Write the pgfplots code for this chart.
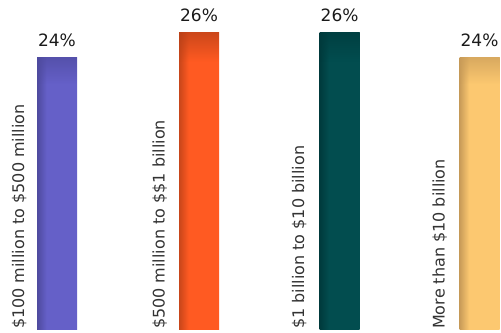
\documentclass[border=0pt]{standalone}
\usepackage{pgfplots}
\pgfplotsset{compat=1.18}
\usetikzlibrary{fadings}
\usepackage{fontspec}
\setmainfont{DejaVu Sans}
\definecolor{pmain}{HTML}{6560C8}
\definecolor{pdark}{HTML}{4E4A9E}
\definecolor{omain}{HTML}{FF5A22}
\definecolor{odark}{HTML}{C8461A}
\definecolor{tmain}{HTML}{024D4F}
\definecolor{tdark}{HTML}{003A3C}
\definecolor{gmain}{HTML}{FCC870}
\definecolor{gdark}{HTML}{C89B58}
\definecolor{lbl}{HTML}{333333}
\definecolor{val}{HTML}{1A1A1A}
\pgfdeclarehorizontalshading{pshade}{100bp}{color(0bp)=(pdark); color(25bp)=(pdark); color(37bp)=(pmain); color(100bp)=(pmain)}
\pgfdeclarehorizontalshading{oshade}{100bp}{color(0bp)=(odark); color(25bp)=(odark); color(37bp)=(omain); color(100bp)=(omain)}
\pgfdeclarehorizontalshading{tshade}{100bp}{color(0bp)=(tdark); color(25bp)=(tdark); color(37bp)=(tmain); color(100bp)=(tmain)}
\pgfdeclarehorizontalshading{gshade}{100bp}{color(0bp)=(gdark); color(25bp)=(gdark); color(37bp)=(gmain); color(100bp)=(gmain)}
\tikzfading[name=topfade, top color=transparent!100, bottom color=transparent!100]
\pgfdeclareverticalshading{topfadeshade}{100bp}{color(0bp)=(pgftransparent!100); color(70bp)=(pgftransparent!100); color(75bp)=(pgftransparent!0); color(100bp)=(pgftransparent!0)}
\pgfdeclarefading{topedge}{\pgfuseshading{topfadeshade}}
\pgfplotsset{
  valnodes/.style={
    nodes near coords={\pgfmathprintnumber{\pgfplotspointmeta}\%},
    every node near coord/.append style={font=\fontsize{17}{20}\selectfont, text=val, anchor=base, inner sep=0pt, yshift=11pt, /pgf/number format/assume math mode=true},
  },
  topdark/.style={bar shift=0pt, draw=none, fill=#1, fill opacity=0.7, path fading=topedge, fit fading=true, forget plot},
}
\begin{document}
\begin{tikzpicture}
\begin{axis}[
  scale only axis,
  width=501pt, height=329pt,
  xmin=-0.4034, xmax=3.142,
  ymin=2.24, ymax=28.56,
  hide axis,
  ybar, bar width=40pt,
]
\addplot[bar shift=0pt, draw=none, shade, shading=pshade, valnodes] coordinates {(0,24)};
\addplot[bar shift=0pt, draw=none, shade, shading=oshade, valnodes] coordinates {(1.005,26)};
\addplot[bar shift=0pt, draw=none, shade, shading=tshade, valnodes] coordinates {(2,26)};
\addplot[bar shift=0pt, draw=none, shade, shading=gshade, valnodes] coordinates {(2.99,24)};
\addplot[topdark=pdark] coordinates {(0,24)};
\addplot[topdark=odark!90!black] coordinates {(1.005,26)};
\addplot[topdark=tdark] coordinates {(2,26)};
\addplot[topdark=gdark] coordinates {(2.99,24)};
\begin{scope}[every node/.style={rotate=90, anchor=base west, inner sep=0pt, font=\fontsize{16}{19}\selectfont, text=lbl}]
\node at ([xshift=-33pt,yshift=0pt]axis cs:0,2.24) {\$100 million to \$500 million};
\node at ([xshift=-34.5pt,yshift=0pt]axis cs:1.005,2.24) {\$500 million to \$\$1 billion};
\node at ([xshift=-35.5pt,yshift=0pt]axis cs:2,2.24) {\$1 billion to \$10 billion};
\node at ([xshift=-35pt,yshift=0pt]axis cs:2.99,2.24) {More than \$10 billion};
\end{scope}
\end{axis}
\pgfresetboundingbox
\path[use as bounding box] ([yshift=-3pt]current axis.south west) rectangle (current axis.north east);
\end{tikzpicture}
\end{document}
